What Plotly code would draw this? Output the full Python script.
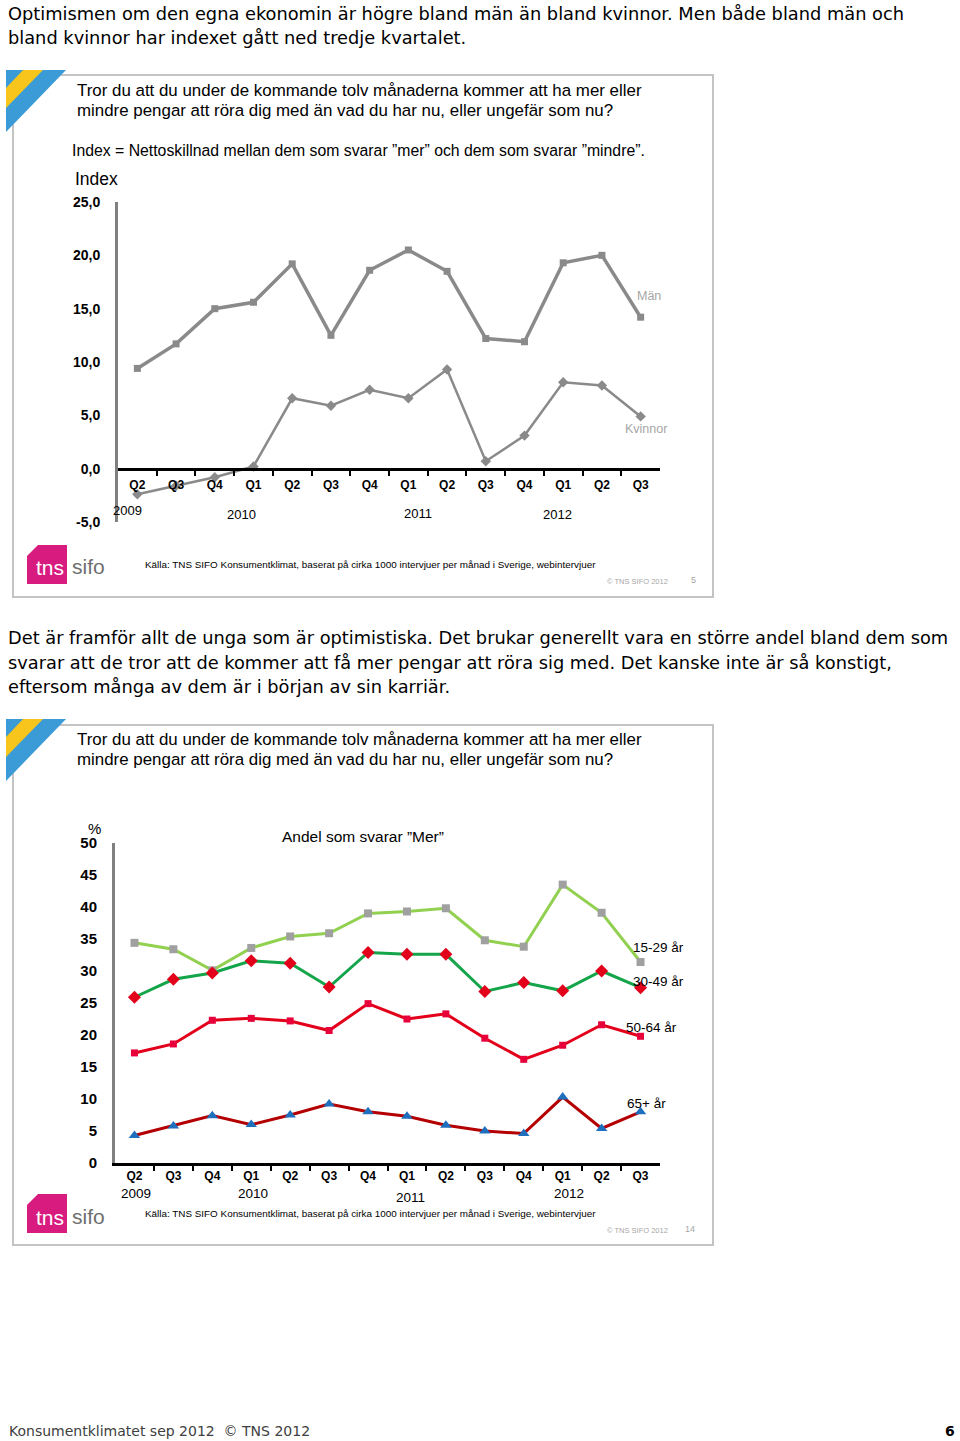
import plotly.graph_objects as go

W, H = 960, 1441

# ---------------- data ----------------
quarters = ["Q2", "Q3", "Q4", "Q1", "Q2", "Q3", "Q4", "Q1", "Q2", "Q3", "Q4", "Q1", "Q2", "Q3"]
years = ["2009", "2010", "2011", "2012"]

man = [9.4, 11.7, 15.0, 15.6, 19.2, 12.5, 18.6, 20.5, 18.5, 12.2, 11.9, 19.3, 20.0, 14.2]
kvinnor = [-2.4, -1.6, -0.8, 0.2, 6.6, 5.9, 7.4, 6.6, 9.3, 0.7, 3.1, 8.1, 7.8, 4.9]

age_15_29 = [34.4, 33.4, 30.1, 33.6, 35.4, 35.9, 39.0, 39.3, 39.8, 34.8, 33.8, 43.5, 39.1, 31.4]
age_30_49 = [25.9, 28.7, 29.7, 31.6, 31.2, 27.5, 32.9, 32.6, 32.6, 26.8, 28.2, 26.9, 30.0, 27.4]
age_50_64 = [17.2, 18.6, 22.3, 22.6, 22.2, 20.7, 24.9, 22.5, 23.3, 19.5, 16.2, 18.4, 21.6, 19.8]
age_65 = [4.3, 5.8, 7.4, 6.0, 7.5, 9.2, 8.0, 7.3, 5.9, 5.0, 4.6, 10.3, 5.4, 8.0]

y1_ticks = [-5, 0, 5, 10, 15, 20, 25]
y1_text = ["-5,0", "0,0", "5,0", "10,0", "15,0", "20,0", "25,0"]
y2_ticks = [0, 5, 10, 15, 20, 25, 30, 35, 40, 45, 50]
y2_text = ["0", "5", "10", "15", "20", "25", "30", "35", "40", "45", "50"]

# ---------------- helpers ----------------
def px(x):
    return x / W


def py(y):
    return 1 - y / H


idx = list(range(len(quarters)))

fig = go.Figure()

# chart 1
fig.add_trace(go.Scatter(x=idx, y=man, mode="lines+markers", xaxis="x", yaxis="y",
                         line=dict(color="#8a8a8a", width=3.5),
                         marker=dict(symbol="square", size=7, color="#8a8a8a"),
                         showlegend=False, hoverinfo="skip"))
fig.add_trace(go.Scatter(x=idx, y=kvinnor, mode="lines+markers", xaxis="x", yaxis="y",
                         line=dict(color="#8a8a8a", width=2.5),
                         marker=dict(symbol="diamond", size=8, color="#8a8a8a"),
                         showlegend=False, hoverinfo="skip"))

# chart 2
fig.add_trace(go.Scatter(x=idx, y=age_15_29, mode="lines+markers", xaxis="x2", yaxis="y2",
                         line=dict(color="#92d050", width=3),
                         marker=dict(symbol="square", size=8, color="#a0a0a0"),
                         showlegend=False, hoverinfo="skip"))
fig.add_trace(go.Scatter(x=idx, y=age_30_49, mode="lines+markers", xaxis="x2", yaxis="y2",
                         line=dict(color="#14a54b", width=3),
                         marker=dict(symbol="diamond", size=10, color="#e3001b"),
                         showlegend=False, hoverinfo="skip"))
fig.add_trace(go.Scatter(x=idx, y=age_50_64, mode="lines+markers", xaxis="x2", yaxis="y2",
                         line=dict(color="#e3001b", width=3),
                         marker=dict(symbol="square", size=7, color="#e8003a"),
                         showlegend=False, hoverinfo="skip"))
fig.add_trace(go.Scatter(x=idx, y=age_65, mode="lines+markers", xaxis="x2", yaxis="y2",
                         line=dict(color="#b40000", width=3),
                         marker=dict(symbol="triangle-up", size=10, color="#1f6fbf"),
                         showlegend=False, hoverinfo="skip"))

# ---------------- axes ----------------
y1_dom = [py(522), py(202)]
zero_pos = y1_dom[0] + (y1_dom[1] - y1_dom[0]) * (0 - (-5)) / 30
axis_font = dict(family="Liberation Sans, Arial", size=12, color="#000000", weight="bold")

fig.update_layout(
    xaxis=dict(domain=[px(118), px(660)], range=[-0.5, 13.5], anchor="free", position=zero_pos,
               tickmode="array", tickvals=idx, ticktext=quarters, ticks="",
               tickfont=axis_font, ticklabelstandoff=4, automargin=False,
               showline=True, linecolor="#000000", linewidth=3,
               showgrid=False, zeroline=False,
               minor=dict(tickmode="array", tickvals=[i + 0.5 for i in idx[:-1]],
                          ticks="outside", ticklen=5, tickwidth=2, tickcolor="#000000",
                          showgrid=False)),
    yaxis=dict(domain=y1_dom, range=[-5, 25], anchor="x", automargin=False,
               tickmode="array", tickvals=y1_ticks, ticktext=y1_text, ticks="",
               tickfont=dict(family="Liberation Sans, Arial", size=14, color="#000000", weight="bold"),
               ticklabelstandoff=12,
               showline=True, linecolor="#808080", linewidth=3,
               showgrid=False, zeroline=False),
    xaxis2=dict(domain=[px(115), px(660)], range=[-0.5, 13.5], anchor="y2", automargin=False,
                tickmode="array", tickvals=idx, ticktext=quarters, ticks="",
                tickfont=axis_font, ticklabelstandoff=0,
                showline=True, linecolor="#000000", linewidth=3,
                showgrid=False, zeroline=False,
                minor=dict(tickmode="array", tickvals=[i + 0.5 for i in idx[:-1]],
                           ticks="outside", ticklen=5, tickwidth=2, tickcolor="#000000",
                           showgrid=False)),
    yaxis2=dict(domain=[py(1163), py(843)], range=[0, 50], anchor="x2", automargin=False,
                tickmode="array", tickvals=y2_ticks, ticktext=y2_text, ticks="",
                tickfont=dict(family="Liberation Sans, Arial", size=15, color="#000000", weight="bold"),
                ticklabelstandoff=12,
                showline=True, linecolor="#808080", linewidth=3,
                showgrid=False, zeroline=False),
)

# ---------------- shapes ----------------
shapes = []
for top, bot in [(75, 597), (725, 1245)]:
    shapes.append(dict(type="rect", xref="paper", yref="paper",
                       x0=px(13), x1=px(713), y0=py(bot), y1=py(top),
                       line=dict(color="#c4c4c4", width=2), fillcolor="rgba(0,0,0,0)", layer="below"))


def tri_path(dy):
    pts = [(6, 70 + dy), (66, 70 + dy), (6, 132 + dy)]
    return "M " + " L ".join(f"{px(a)},{py(b)}" for a, b in pts) + " Z"


def stripe_path(dy):
    pts = [(23, 70 + dy), (43, 70 + dy), (6, 108 + dy), (6, 88 + dy)]
    return "M " + " L ".join(f"{px(a)},{py(b)}" for a, b in pts) + " Z"


def logo_path(dy):
    pts = [(27, 556 + dy), (38, 545 + dy), (67, 545 + dy), (67, 584 + dy), (27, 584 + dy)]
    return "M " + " L ".join(f"{px(a)},{py(b)}" for a, b in pts) + " Z"


for dy in (0, 649):
    shapes.append(dict(type="path", xref="paper", yref="paper", path=tri_path(dy),
                       fillcolor="#3b9bd6", line=dict(width=0)))
    shapes.append(dict(type="path", xref="paper", yref="paper", path=stripe_path(dy),
                       fillcolor="#f7c51c", line=dict(width=0)))
    shapes.append(dict(type="path", xref="paper", yref="paper", path=logo_path(dy),
                       fillcolor="#d81b7f", line=dict(width=0)))

# ---------------- annotations ----------------
ann = []
VERD = "DejaVu Sans, Verdana"
ARI = "Liberation Sans, Arial"


def txt(x, y, s, size, family=ARI, color="#000000", xanchor="left", weight="normal",
        xref="paper", yref="paper"):
    ann.append(dict(x=px(x) if xref == "paper" else x, y=py(y) if yref == "paper" else y,
                    xref=xref, yref=yref, text=s, showarrow=False,
                    xanchor=xanchor, yanchor="middle",
                    font=dict(family=family, size=size, color=color, weight=weight)))


txt(6, 13, "Optimismen om den egna ekonomin är högre bland män än bland kvinnor. Men både bland män och", 17.8, VERD)
txt(6, 38, "bland kvinnor har indexet gått ned tredje kvartalet.", 17.8, VERD)

for dy in (0, 649):
    txt(75, 90 + dy, "Tror du att du under de kommande tolv månaderna kommer att ha mer eller", 16.9)
    txt(75, 110 + dy, "mindre pengar att röra dig med än vad du har nu, eller ungefär som nu?", 16.9)
    txt(143, 564 + dy, "Källa: TNS SIFO Konsumentklimat, baserat på cirka 1000 intervjuer per månad i Sverige, webintervjuer",
        9.9, ARI)
    txt(605, 581 + dy, "© TNS SIFO 2012", 7.5, ARI, color="#a6a6a6")
    txt(34, 568 + dy, "tns", 21, ARI, color="#ffffff")
    txt(70, 567 + dy, "sifo", 21, ARI, color="#6f6f6f")

txt(693, 580, "5", 9, ARI, color="#a6a6a6", xanchor="center")
txt(690, 1229, "14", 9, ARI, color="#a6a6a6", xanchor="center")

txt(70, 150, "Index = Nettoskillnad mellan dem som svarar ”mer” och dem som svarar ”mindre”.", 15.8)
txt(73, 179, "Index", 17.5)
txt(635, 296, "Män", 12.5, ARI, color="#a6a6a6")
txt(623, 429, "Kvinnor", 12.5, ARI, color="#a6a6a6")

# year labels chart 1 (data x positions)
for yr, xv, yv in zip(years, [-0.25, 2.7, 7.25, 10.85], [511, 514, 513, 514]):
    txt(xv, yv, yr, 13, ARI, xanchor="center", xref="x")

txt(6, 637, "Det är framför allt de unga som är optimistiska. Det brukar generellt vara en större andel bland dem som", 17.8, VERD)
txt(6, 662, "svarar att de tror att de kommer att få mer pengar att röra sig med. Det kanske inte är så konstigt,", 17.8, VERD)
txt(6, 687, "eftersom många av dem är i början av sin karriär.", 17.8, VERD)

txt(94, 828, "%", 15, xanchor="center")
txt(280, 836, "Andel som svarar ”Mer”", 15.5)
txt(631, 947, "15-29 år", 13.5)
txt(631, 981, "30-49 år", 13.5)
txt(624, 1027, "50-64 år", 13.5)
txt(625, 1103, "65+ år", 13.5)

for yr, xv, yv in zip(years, [0.03, 3.05, 7.08, 11.15], [1193, 1193, 1197, 1193]):
    txt(xv, yv, yr, 13.5, ARI, xanchor="center", xref="x2")

txt(7, 1431, "Konsumentklimatet sep 2012  © TNS 2012", 14, VERD, color="#404040")
txt(957, 1431, "6", 14, VERD, color="#000000", xanchor="right", weight="bold")

fig.update_layout(
    width=W, height=H, autosize=False,
    margin=dict(l=0, r=0, t=0, b=0, pad=0, autoexpand=False),
    paper_bgcolor="#ffffff", plot_bgcolor="rgba(0,0,0,0)",
    shapes=shapes, annotations=ann, showlegend=False,
)

post = """
document.documentElement.style.margin='0';
document.body.style.margin='0';
document.body.style.padding='0';
"""
fig.write_html("out.html", config={"displayModeBar": False}, post_script=post)
